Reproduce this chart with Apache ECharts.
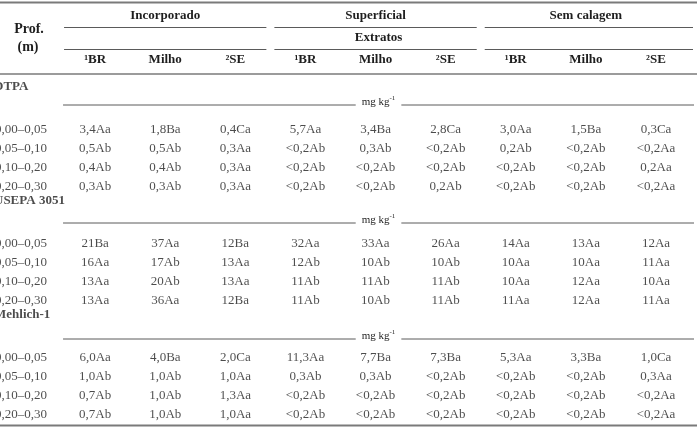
<!DOCTYPE html>
<html><head><meta charset="utf-8">
<script src="https://cdn.jsdelivr.net/npm/echarts@6/dist/echarts.min.js"></script>
<style>html,body{margin:0;padding:0;background:#fff}#c{width:697px;height:427px}</style>
</head><body><div id="c"></div>
<script>
// ---- data ----
const columns = ['Prof. (m)', '¹BR', 'Milho', '²SE', '¹BR', 'Milho', '²SE', '¹BR', 'Milho', '²SE'];
const groups = ['Incorporado', 'Superficial', 'Sem calagem'];
const extractHeader = 'Extratos';
const depthHeader = ['Prof.', '(m)'];
const depths = ['0,00–0,05', '0,05–0,10', '0,10–0,20', '0,20–0,30'];
const extractors = ['DTPA', 'USEPA 3051', 'Mehlich-1'];
const unitLabel = 'mg kg';
const unitExp = '-1';
const dtpa = [
  ['3,4Aa', '1,8Ba', '0,4Ca', '5,7Aa', '3,4Ba', '2,8Ca', '3,0Aa', '1,5Ba', '0,3Ca'],
  ['0,5Ab', '0,5Ab', '0,3Aa', '<0,2Ab', '0,3Ab', '<0,2Ab', '0,2Ab', '<0,2Ab', '<0,2Aa'],
  ['0,4Ab', '0,4Ab', '0,3Aa', '<0,2Ab', '<0,2Ab', '<0,2Ab', '<0,2Ab', '<0,2Ab', '0,2Aa'],
  ['0,3Ab', '0,3Ab', '0,3Aa', '<0,2Ab', '<0,2Ab', '0,2Ab', '<0,2Ab', '<0,2Ab', '<0,2Aa']
];
const usepa = [
  ['21Ba', '37Aa', '12Ba', '32Aa', '33Aa', '26Aa', '14Aa', '13Aa', '12Aa'],
  ['16Aa', '17Ab', '13Aa', '12Ab', '10Ab', '10Ab', '10Aa', '10Aa', '11Aa'],
  ['13Aa', '20Ab', '13Aa', '11Ab', '11Ab', '11Ab', '10Aa', '12Aa', '10Aa'],
  ['13Aa', '36Aa', '12Ba', '11Ab', '10Ab', '11Ab', '11Aa', '12Aa', '11Aa']
];
const mehlich = [
  ['6,0Aa', '4,0Ba', '2,0Ca', '11,3Aa', '7,7Ba', '7,3Ba', '5,3Aa', '3,3Ba', '1,0Ca'],
  ['1,0Ab', '1,0Ab', '1,0Aa', '0,3Ab', '0,3Ab', '<0,2Ab', '<0,2Ab', '<0,2Ab', '0,3Aa'],
  ['0,7Ab', '1,0Ab', '1,3Aa', '<0,2Ab', '<0,2Ab', '<0,2Ab', '<0,2Ab', '<0,2Ab', '<0,2Aa'],
  ['0,7Ab', '1,0Ab', '1,0Aa', '<0,2Ab', '<0,2Ab', '<0,2Ab', '<0,2Ab', '<0,2Ab', '<0,2Aa']
];
const tables = [dtpa, usepa, mehlich];

// ---- layout / style ----
const FONT = 'Liberation Serif';
const TXT = '#1e1e1e';
const RULE = '#7a7a7a';
const THIN = '#5a5a5a';
const W = 697;
const unitShift = [-9, -5, -3];

const yCats = [];
const cellData = [], depthData = [], titleData = [], unitData = [];
tables.forEach((tbl, s) => {
  const base = yCats.length;
  yCats.push('t' + s, 'u' + s);
  titleData.push([0, base, extractors[s]]);
  unitData.push([1, base + 1]);
  tbl.forEach((row, i) => {
    yCats.push('d' + s + '_' + i);
    depthData.push([0, base + 2 + i, depths[i]]);
    row.forEach((v, j) => cellData.push([j + 1, base + 2 + i, v]));
  });
});

const chart = echarts.init(document.getElementById('c'), null, {renderer: 'canvas'});

const labelBase = {show: true, position: 'inside', fontFamily: FONT, fontSize: 13, color: TXT,
  formatter: p => p.data[2]};
const invisible = {color: 'rgba(0,0,0,0)'};

chart.setOption({
  animation: false,
  backgroundColor: '#fff',
  grid: {left: 25, right: 41, top: 82.5, bottom: 2.5, containLabel: false},
  xAxis: {
    type: 'category', data: columns, position: 'top', boundaryGap: false,
    axisLine: {show: false}, axisTick: {show: false}, splitLine: {show: false},
    axisLabel: {interval: 0, margin: 16, fontFamily: FONT, fontWeight: 'bold', fontSize: 13, color: TXT,
      formatter: (v, i) => i === 0 ? '' : v}
  },
  yAxis: {type: 'category', data: yCats, inverse: true, show: false},
  series: [
    {type: 'scatter', data: cellData, symbolSize: 1, itemStyle: invisible, silent: true,
      label: labelBase},
    {type: 'scatter', data: depthData, symbolSize: 1, itemStyle: invisible, silent: true,
      label: Object.assign({}, labelBase, {offset: [-4, 0]})},
    {type: 'scatter', data: titleData, symbolSize: 1, itemStyle: invisible, silent: true,
      label: Object.assign({}, labelBase, {align: 'left', offset: [-31, -5], fontWeight: 'bold'})},
    {type: 'custom', data: unitData, silent: true, clip: false,
      renderItem(params, api) {
        const row = api.value(1);
        const p = api.coord([1, row]);
        const bw = api.size([1, 0])[0];
        const x0 = p[0] - bw / 2 + 3, x1 = W - 3;
        const y = p[1] + unitShift[params.dataIndex];
        return {type: 'group', children: [
          {type: 'line', shape: {x1: x0, y1: y + 3, x2: x1, y2: y + 3}, style: {stroke: THIN, lineWidth: 1}},
          {type: 'text', x: (x0 + x1) / 2, y: y, style: {
            text: '{a|' + unitLabel + '}{s|' + unitExp + '}', align: 'center', verticalAlign: 'middle',
            backgroundColor: '#fff', padding: [0, 6],
            rich: {a: {fontFamily: FONT, fontSize: 11, fill: TXT},
                   s: {fontFamily: FONT, fontSize: 7, fill: TXT, padding: [0, 0, 7, 0]}}}}
        ]};
      }},
    {type: 'custom', data: [[0, 0]], silent: true, clip: false,
      renderItem(params, api) {
        const bw = api.size([1, 0])[0];
        const ch = [];
        const hline = (x1, x2, y, c, w) => ch.push({type: 'line', shape: {x1, y1: y, x2, y2: y}, style: {stroke: c, lineWidth: w}});
        const txt = (t, x, y, size) => ch.push({type: 'text', x, y, style: {text: t, align: 'center', verticalAlign: 'middle',
          fontFamily: FONT, fontWeight: 'bold', fontSize: size || 13, fill: TXT}});
        hline(0, W, 2.5, RULE, 2);
        groups.forEach((g, k) => {
          const cx = api.coord([2 + 3 * k, 0])[0];
          const xs = api.coord([1 + 3 * k, 0])[0] - bw / 2 + 4;
          const xe = k === groups.length - 1 ? W - 4 : api.coord([3 + 3 * k, 0])[0] + bw / 2 - 4;
          txt(g, cx, 16);
          hline(xs, xe, 27.5, THIN, 1);
          hline(xs, xe, 49.5, THIN, 1);
          if (k === 1) txt(extractHeader, cx + 3, 38);
        });
        txt(depthHeader[0], 29, 29, 14);
        txt(depthHeader[1], 28, 47, 14);
        hline(0, W, 74, RULE, 1.6);
        hline(0, W, 425.5, RULE, 2);
        return {type: 'group', children: ch};
      }}
  ]
});
</script>
</body></html>
